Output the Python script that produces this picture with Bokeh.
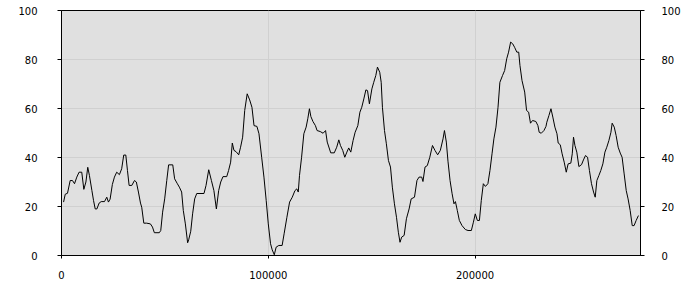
from bokeh.plotting import figure
from bokeh.models import Range1d, LinearAxis, FixedTicker, BasicTickFormatter
from bokeh.embed import file_html
from bokeh.resources import INLINE

x_vals = [
    1000, 1800, 2900, 4200, 5300, 6300, 7400, 8500, 9800, 10800, 11800, 12700, 13500, 14700, 15500, 16300,
    17100, 18200, 19200, 20800, 21900, 22700, 23500, 24600, 25600, 26700, 28000, 29100, 30100, 31100, 31900,
    32700, 34000, 35300, 36200, 37200, 38200, 38800, 39800, 41200, 43000, 44000, 44900, 47300,
    48000, 48900, 49900, 50900, 51800, 53800, 54700, 55900, 57000, 58100, 58900, 59900, 61000, 61500, 62500,
    63400, 64400, 65400, 68900, 69900, 71200, 72500, 73700, 74900, 76000, 77000, 78100, 79900, 80800, 81800,
    82600, 83400, 84400, 85700, 86600, 87600, 88600, 89800, 91000, 92100, 93100, 94500,
    95500, 96800, 97900, 99000, 100000, 101100, 101900, 102900, 103800, 105100, 106700, 107700, 109000,
    110300, 111600, 112900, 113800, 114500, 115100, 116100, 117200, 118300, 119100, 119900, 120600, 121600,
    122800, 123600, 125100, 126500, 127700, 128500, 130200, 131900, 133100, 134100, 134900, 136000, 137000,
    138000, 138900, 139900,
    141000, 142000, 143300, 144300, 145200, 146200, 147200, 148000, 148900, 150100, 151000, 152000, 152800,
    153900, 154600, 155200, 156200, 157100, 158100, 159100, 160000, 161000, 162000, 162900, 163700, 164500,
    165700, 166800, 168100, 169100, 170700, 171900, 172900, 174200, 174800, 175800, 176900, 178100, 179400,
    180600, 181900, 183200, 184500, 185200, 186100, 186900,
    187900, 188900, 189800, 190500, 191400, 192400, 193700, 195300, 196600, 198200, 199200, 200100, 201100,
    202100, 203000, 204000, 205000, 206200, 207200, 208200, 209100, 210100, 211100, 212000, 213300, 214300,
    215300, 216200, 217200, 218200, 219100, 220200, 221100, 221700, 222700, 224000, 224900, 225900, 226800,
    227800, 229400, 230400, 231000, 232000, 233300, 234300,
    234700, 235700, 236700, 237600, 238600, 239600, 240200, 241200, 242100, 243100, 244100, 245000, 246300,
    247000, 247600, 248300, 249200, 250200, 251500, 252400, 253400, 254400, 255300, 256300, 257300, 258100,
    258900, 259900, 260800, 261800, 262800, 263700, 264700, 265700, 266300, 267300, 268200, 269200, 270200,
    271100, 272100, 273100, 274000, 275000, 276000, 276900, 277900, 279000,
]

y_vals = [
    21.8, 25, 25.4, 30.6, 30.6, 29.3, 32, 34, 34, 27, 30, 36, 32.7, 26.5, 22.4, 19,
    19, 21.4, 22, 22, 23.8, 21.8, 23, 29, 32, 34, 33, 35.4, 41, 41, 34.7,
    28.6, 28.6, 30.6, 30, 25.9, 21.4, 19.7, 13.2, 13.2, 12.9, 11.6, 9.3, 9.3,
    10.2, 17.7, 23.1, 30.6, 37, 37, 31.3, 29.5, 27.9, 25.9, 18.4, 12.9, 5.2, 6.4, 9.9,
    17, 23.1, 25.3, 25.3, 28.6, 35, 30.6, 26.5, 19, 26.5, 30, 32.2, 32.2, 34.7, 38.1,
    45.9, 42.9, 42.4, 41.1, 44.2, 48.3, 59.2, 66, 63.5, 60.5, 53, 52.7,
    49.7, 40.1, 32, 22.4, 12.9, 4.8, 2.3, 0.3, 3.4, 4.1, 4.1, 9.1, 15.6,
    21.8, 23.8, 26.5, 27.2, 25.9, 32.7, 40.1, 49.7, 52.4, 55.8, 59.9, 56.7, 54.7,
    53, 51, 50.6, 49.9, 51, 46.3, 41.9, 41.9, 44.2, 47.2, 44.9, 42.9, 40.1,
    42.2, 43.9, 42.2,
    46.9, 50.3, 53, 58.5, 60.5, 63.9, 67.6, 67.3, 61.9, 68, 70.7, 73.5, 76.9,
    74.8, 70.7, 60.5, 51, 45.6, 38.8, 36.1, 27.9, 21.1, 15.6, 9.5, 5.4, 7.5,
    8.2, 15, 19, 23.1, 23.8, 30.6, 32, 32, 30.2, 36.1, 36.7, 40.1, 44.9,
    42.9, 41.1, 42.9, 47.6, 51, 46.3, 38.5,
    30.6, 25.2, 21.1, 22, 18.4, 14.3, 12.2, 10.6, 10.2, 10.2, 13.6, 17, 14.3,
    14.3, 22.4, 29.3, 28.2, 29.3, 34.7, 41.5, 47.6, 52.4, 60.5, 70.7, 73.5, 75.5,
    80.3, 83, 87.1, 86.4, 85, 83, 83, 77.6, 71.4, 66.7, 59.2, 58.5, 54,
    55.1, 54.7, 53, 50.3, 49.9, 51, 52.7,
    54.4, 57.1, 59.9, 56.5, 52.4, 49.7, 45.9, 45.2, 41.5, 38.1, 34, 37.4, 37.7,
    41.5, 48.3, 44.9, 42.2, 36.3, 37.1, 39, 40.8, 40.1, 34.7, 29.3, 25.9, 23.8,
    30.6, 32.7, 34.7, 37.4, 42.2, 44.2, 46.9, 50.3, 54, 52.4, 49, 44.2, 41.8,
    40.1, 33.3, 26.5, 23.1, 18.4, 12.2, 12.2, 14.3, 16.3,
]

x_ticks = [0, 100000, 200000]
y_ticks = [0, 20, 40, 60, 80, 100]

FONT = "DejaVu Sans"

p = figure(width=700, height=300, output_backend="svg", toolbar_location=None,
           x_range=Range1d(0, 280000), y_range=Range1d(0, 100),
           min_border_left=61, min_border_right=60, min_border_top=10, min_border_bottom=45)

p.background_fill_color = "#e0e0e0"
p.border_fill_color = "white"
p.outline_line_color = "black"
p.outline_line_width = 1

p.line(x_vals, y_vals, line_color="black", line_width=1)

p.xaxis.ticker = FixedTicker(ticks=x_ticks)
p.xaxis.formatter = BasicTickFormatter(use_scientific=False)
p.yaxis.ticker = FixedTicker(ticks=y_ticks)

right = LinearAxis(ticker=FixedTicker(ticks=y_ticks))
p.add_layout(right, "right")

for ax in p.axis:
    ax.axis_line_color = "black"
    ax.major_tick_line_color = "black"
    ax.major_tick_in = 0
    ax.minor_tick_line_color = None
    ax.major_label_text_font = FONT
    ax.major_label_text_font_size = "10px"
    ax.major_label_text_color = "black"

p.xaxis.major_tick_out = 3
p.xaxis.major_label_standoff = 12
p.yaxis[0].major_tick_out = 4
p.yaxis[0].major_label_standoff = 20
right.major_tick_out = 4
right.major_label_standoff = 17

p.xgrid.ticker = FixedTicker(ticks=x_ticks)
p.ygrid.ticker = FixedTicker(ticks=y_ticks)
p.grid.grid_line_color = "#d0d0d0"
p.grid.grid_line_width = 1

open("out.html", "w").write(file_html(p, INLINE))
